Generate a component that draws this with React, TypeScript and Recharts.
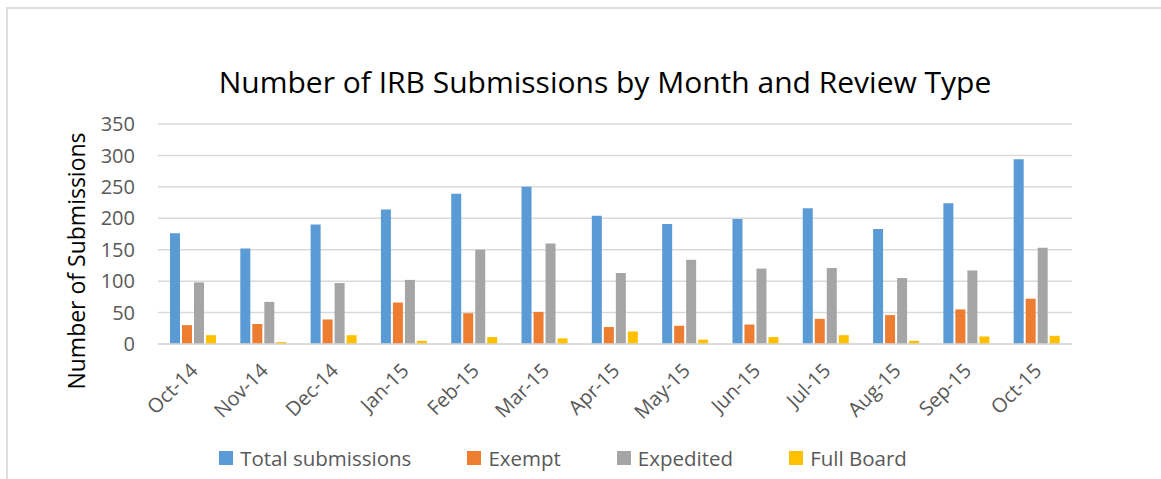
import { BarChart, Bar, XAxis, YAxis, CartesianGrid, Legend } from 'recharts'

const FONT = '"Open Sans", "Noto Sans", sans-serif'

// IRB submissions per month
const months = ['Oct-14', 'Nov-14', 'Dec-14', 'Jan-15', 'Feb-15', 'Mar-15', 'Apr-15', 'May-15', 'Jun-15', 'Jul-15', 'Aug-15', 'Sep-15', 'Oct-15']
const total = [176, 152, 190, 214, 239, 250, 204, 191, 199, 216, 183, 224, 294]
const exempt = [30, 32, 39, 66, 49, 51, 27, 29, 31, 40, 46, 55, 72]
const expedited = [98, 67, 97, 102, 150, 160, 113, 134, 120, 121, 105, 117, 153]
const fullBoard = [14, 3, 14, 5, 11, 9, 20, 7, 11, 14, 5, 12, 13]
const seriesNames = ['Total submissions', 'Exempt', 'Expedited', 'Full Board']
const yTicks = [0, 50, 100, 150, 200, 250, 300, 350]
// boundaries between categories, for the little tick marks under the axis
const edgeTicks = months.map((_, i) => i).concat(months.length)

const data = months.map((month, i) => ({
  month,
  total: total[i],
  exempt: exempt[i],
  expedited: expedited[i],
  fullBoard: fullBoard[i],
}))

function MonthTick(props: any) {
  const { x, y, payload } = props
  const ax = x + 1
  const ay = y + 14
  return (
    <text
      x={ax}
      y={ay}
      dy="0.35em"
      transform={`rotate(-45 ${ax} ${ay})`}
      textAnchor="end"
      fill="#595959"
      fontSize={20}
      fontFamily={FONT}
    >
      {payload.value}
    </text>
  )
}

function LegendContent(props: any) {
  const payload = [...(props.payload || [])].sort(
    (a: any, b: any) => seriesNames.indexOf(a.value) - seriesNames.indexOf(b.value)
  )
  return (
    <div
      style={{
        display: 'flex',
        justifyContent: 'center',
        paddingRight: 35,
        gap: 56,
        fontFamily: FONT,
        fontSize: 20.5,
        color: '#595959',
      }}
    >
      {payload.map((e: any) => (
        <div key={e.value} style={{ display: 'flex', alignItems: 'center' }}>
          <span style={{ width: 14, height: 14, background: e.color, marginRight: 7, display: 'inline-block' }} />
          {e.value}
        </div>
      ))}
    </div>
  )
}

export default function App() {
  return (
    <div style={{ position: 'absolute', left: 0, top: 0, width: 1161, height: 479, background: '#fff', overflow: 'hidden' }}>
      <div
        style={{
          position: 'absolute',
          left: 6,
          top: 7,
          width: 1160,
          height: 480,
          borderTop: '2px solid #dedede',
          borderLeft: '2px solid #dedede',
        }}
      />
      <svg width={1161} height={479} style={{ position: 'absolute', left: 0, top: 0, pointerEvents: 'none' }}>
        <text x={605} y={93} textAnchor="middle" fontSize={30} fontFamily={FONT} fill="#000">
          Number of IRB Submissions by Month and Review Type
        </text>
        <text
          x={77}
          y={261}
          dy="0.35em"
          transform="rotate(-90 77 261)"
          textAnchor="middle"
          fontSize={23}
          fontFamily={FONT}
          fill="#000"
        >
          Number of Submissions
        </text>
      </svg>
      <div style={{ position: 'absolute', left: 0, top: 0 }}>
        <BarChart
          width={1161}
          height={479}
          data={data}
          margin={{ top: 124, right: 89, bottom: 24, left: 0 }}
          barCategoryGap={12}
          barGap={2}
        >
          <CartesianGrid vertical={false} stroke="#d9d9d9" strokeWidth={1.5} />
          <XAxis
            xAxisId={0}
            type="number"
            domain={[0, months.length]}
            ticks={edgeTicks}
            allowDataOverflow
            interval={0}
            height={1}
            tick={false}
            tickSize={7}
            axisLine={{ stroke: '#d9d9d9', strokeWidth: 1.5 }}
            tickLine={{ stroke: '#d9d9d9', strokeWidth: 1.5 }}
          />
          <XAxis
            xAxisId={1}
            dataKey="month"
            height={110}
            interval={0}
            axisLine={false}
            tickLine={false}
            tick={<MonthTick />}
          />
          <YAxis
            domain={[0, 350]}
            ticks={yTicks}
            interval={0}
            width={158}
            axisLine={false}
            tickLine={false}
            tickMargin={17}
            tick={{ fill: '#595959', fontSize: 20, fontFamily: FONT }}
          />
          <Legend
            layout="horizontal"
            verticalAlign="middle"
            align="center"
            wrapperStyle={{ top: 444, left: 0, width: 1161 }}
            content={<LegendContent />}
          />
          <Bar xAxisId={1} dataKey="total" name={seriesNames[0]} fill="#5B9BD5" isAnimationActive={false} />
          <Bar xAxisId={1} dataKey="exempt" name={seriesNames[1]} fill="#ED7D31" isAnimationActive={false} />
          <Bar xAxisId={1} dataKey="expedited" name={seriesNames[2]} fill="#A5A5A5" isAnimationActive={false} />
          <Bar xAxisId={1} dataKey="fullBoard" name={seriesNames[3]} fill="#FFC000" isAnimationActive={false} />
        </BarChart>
      </div>
    </div>
  )
}
